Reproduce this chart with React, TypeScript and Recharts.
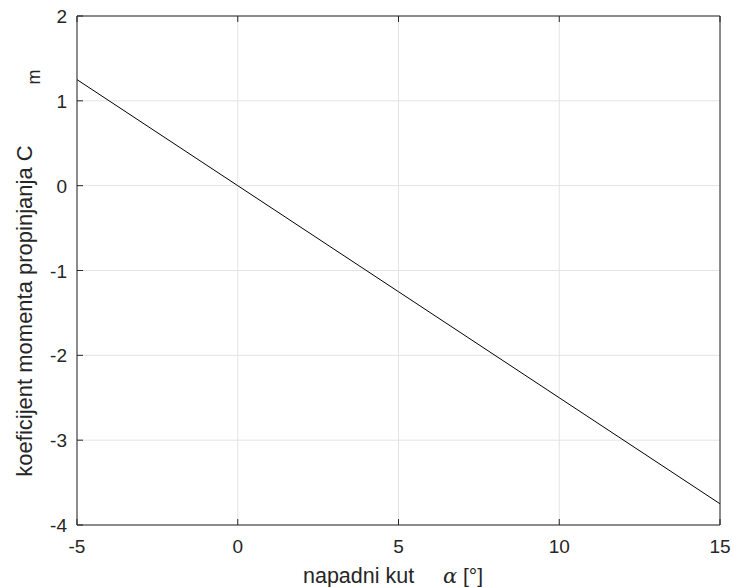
import React from 'react';
import { LineChart, Line, XAxis, YAxis, CartesianGrid } from 'recharts';

// napadni kut alpha [deg] and pitching moment coefficient Cm
const alpha = [-5, 0, 5, 10, 15];
const cm = [1.25, 0, -1.25, -2.5, -3.75];

const xTicks = [-5, 0, 5, 10, 15];
const yTicks = [2, 1, 0, -1, -2, -3, -4];

const data = alpha.map((a, i) => ({ alpha: a, cm: cm[i] }));

const FONT = '"Liberation Sans", Arial, Helvetica, sans-serif';
const AXIS = '#262626';
const TICK_LEN = 6;

// inward tick + label for the bottom axis
const BottomTick = (props: any) => {
    const { x, y, payload } = props;
    return (
        <g>
            <line x1={x} y1={y} x2={x} y2={y - TICK_LEN} stroke={AXIS} />
            <text x={x} y={y + 28} textAnchor="middle" fontSize={19} fill="#262626" fontFamily={FONT}>
                {payload.value}
            </text>
        </g>
    );
};

const LeftTick = (props: any) => {
    const { x, y, payload } = props;
    return (
        <g>
            <line x1={x} y1={y} x2={x + TICK_LEN} y2={y} stroke={AXIS} />
            <text x={x - 10} y={y + 7} textAnchor="end" fontSize={19} fill="#262626" fontFamily={FONT}>
                {payload.value}
            </text>
        </g>
    );
};

const TopTick = (props: any) => {
    const { x, y } = props;
    return <line x1={x} y1={y} x2={x} y2={y + TICK_LEN} stroke={AXIS} />;
};

const RightTick = (props: any) => {
    const { x, y } = props;
    return <line x1={x} y1={y} x2={x - TICK_LEN} y2={y} stroke={AXIS} />;
};

export default function App() {
    return (
        <div style={{ position: 'absolute', left: 0, top: 0, width: 732, height: 587, background: '#fff' }}>
            <LineChart width={732} height={587} data={data} margin={{ top: 15, right: 11, bottom: 0, left: 0 }}>
                <CartesianGrid xAxisId="bottom" yAxisId="left" stroke="#e3e3e3" horizontal vertical />
                <XAxis
                    xAxisId="bottom"
                    dataKey="alpha"
                    type="number"
                    domain={[-5, 15]}
                    ticks={xTicks}
                    height={62}
                    tickSize={0}
                    tickMargin={0}
                    tickLine={false}
                    stroke={AXIS}
                    tick={<BottomTick />}
                    interval={0}
                />
                <XAxis
                    xAxisId="top"
                    orientation="top"
                    dataKey="alpha"
                    type="number"
                    domain={[-5, 15]}
                    ticks={xTicks}
                    height={1}
                    tickSize={0}
                    tickMargin={0}
                    tickLine={false}
                    stroke={AXIS}
                    tick={<TopTick />}
                    interval={0}
                />
                <YAxis
                    yAxisId="left"
                    type="number"
                    domain={[-4, 2]}
                    ticks={yTicks}
                    width={77}
                    tickSize={0}
                    tickMargin={0}
                    tickLine={false}
                    stroke={AXIS}
                    tick={<LeftTick />}
                    interval={0}
                />
                <YAxis
                    yAxisId="right"
                    orientation="right"
                    type="number"
                    domain={[-4, 2]}
                    ticks={yTicks}
                    width={1}
                    tickSize={0}
                    tickMargin={0}
                    tickLine={false}
                    stroke={AXIS}
                    tick={<RightTick />}
                    interval={0}
                />
                <Line
                    xAxisId="bottom"
                    yAxisId="left"
                    dataKey="cm"
                    stroke="#000"
                    strokeWidth={1}
                    dot={false}
                    isAnimationActive={false}
                />
                <text x={303} y={583} textAnchor="start" fontSize={21.5} fill="#262626" fontFamily={FONT}>
                    napadni kut
                </text>
                <text x={443} y={583} textAnchor="start" fontSize={21} fill="#262626" fontFamily={FONT}>
                    <tspan fontFamily='"DejaVu Serif", "Liberation Serif", serif' fontStyle="italic">α</tspan>
                    <tspan> [°]</tspan>
                </text>
                <text
                    x={32}
                    y={311}
                    transform="rotate(-90 32 311)"
                    textAnchor="middle"
                    fontSize={22}
                    fill="#262626"
                    fontFamily={FONT}
                >
                    koeficijent momenta propinjanja C
                </text>
                <text
                    x={40}
                    y={77}
                    transform="rotate(-90 40 77)"
                    textAnchor="middle"
                    fontSize={18}
                    fill="#262626"
                    fontFamily={FONT}
                >
                    m
                </text>
            </LineChart>
        </div>
    );
}
